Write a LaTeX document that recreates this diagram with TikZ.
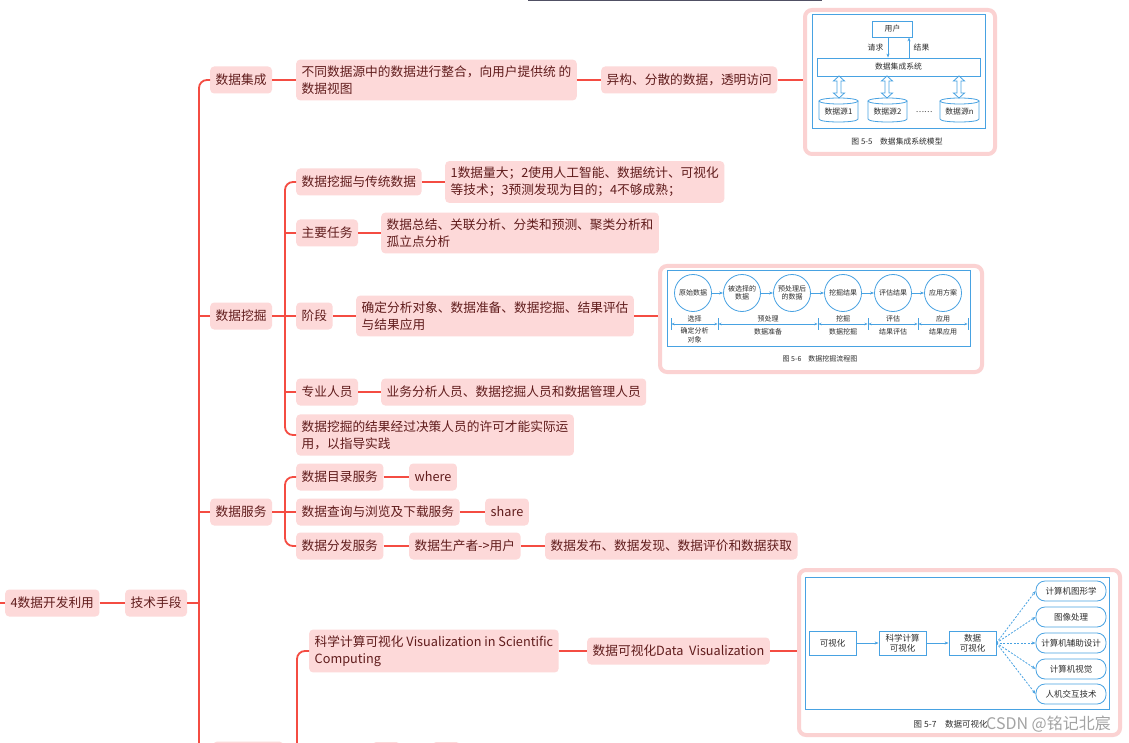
\documentclass[tikz,border=0pt]{standalone}
\usepackage{fontspec}
\setmainfont{Noto Sans CJK SC}
\usetikzlibrary{arrows.meta,calc}
\definecolor{nodefill}{RGB}{253,217,217}
\definecolor{nodetext}{RGB}{96,28,28}
\definecolor{linecol}{RGB}{244,76,66}
\definecolor{framepink}{RGB}{251,210,210}
\definecolor{figblue}{RGB}{72,162,226}
\definecolor{figtext}{RGB}{45,45,45}
\definecolor{topbar}{RGB}{80,80,100}
\newcommand\dblarrow[3]{%
  \draw[figline] (#1-2,#2+5) -- (#1-5.5,#2+5) -- (#1,#2) -- (#1+5.5,#2+5) -- (#1+2,#2+5) -- (#1+2,#3-5) -- (#1+5.5,#3-5) -- (#1,#3) -- (#1-5.5,#3-5) -- (#1-2,#3-5) -- cycle;}
\begin{document}
\begin{tikzpicture}[x=1pt,y=-1pt,
  mnode/.style={fill=nodefill, text=nodetext, rounded corners=4, inner xsep=5.5, inner ysep=6,
    minimum height=27, align=left, anchor=west, font=\fontsize{12.7}{17}\selectfont},
  conn/.style={draw=linecol, line width=1.8},
  framebox/.style={draw=framepink, line width=4, rounded corners=7, fill=white, anchor=north west, inner sep=0},
  figline/.style={draw=figblue, line width=0.8},
  figbox/.style={figline, fill=white, text=figtext, inner sep=1, align=center},
  figtxt/.style={text=figtext, inner sep=0.5, align=center},
  farrow/.style={figline, -{Stealth[length=4,width=3]}},
]
\path[use as bounding box] (0,0) rectangle (1129,743);
\clip (0,0) rectangle (1129,743);
\fill[white] (0,0) rectangle (1129,743);
\draw[topbar, line width=1.5] (528,0.5) -- (822,0.5);

% ---------- main nodes
\node[mnode] (root) at (5,603) {4数据开发利用};
\node[mnode] (jishu) at (125,603) {技术手段};
\node[mnode] (jicheng) at (210,80) {数据集成};
\node[mnode] (wajue) at (210,316) {数据挖掘};
\node[mnode] (fuwu) at (210,512) {数据服务};
\node[mnode, minimum width=70] (bottom) at (213,755) {};

\node[mnode] (jc1) at (296,80) {不同数据源中的数据进行整合，向用户提供统 的\\数据视图};
\node[mnode] (jc2) at (601,80) {异构、分散的数据，透明访问};

\node[mnode] (wj1) at (296,182) {数据挖掘与传统数据};
\node[mnode] (wj1a) at (445,182) {1数据量大；2使用人工智能、数据统计、可视化\\等技术；3预测发现为目的；4不够成熟；};
\node[mnode] (wj2) at (296,233) {主要任务};
\node[mnode] (wj2a) at (381,233) {数据总结、关联分析、分类和预测、聚类分析和\\孤立点分析};
\node[mnode] (wj3) at (296,316) {阶段};
\node[mnode] (wj3a) at (356,316) {确定分析对象、数据准备、数据挖掘、结果评估\\与结果应用};
\node[mnode] (wj4) at (296,392) {专业人员};
\node[mnode] (wj4a) at (381,392) {业务分析人员、数据挖掘人员和数据管理人员};
\node[mnode] (wj5) at (296,435) {数据挖掘的结果经过决策人员的许可才能实际运\\用，以指导实践};

\node[mnode] (fw1) at (296,477) {数据目录服务};
\node[mnode] (fw1a) at (409,477) {where};
\node[mnode] (fw2) at (296,512) {数据查询与浏览及下载服务};
\node[mnode] (fw2a) at (485,512) {share};
\node[mnode] (fw3) at (296,546) {数据分发服务};
\node[mnode] (fw3a) at (409,546) {数据生产者->用户};
\node[mnode] (fw3b) at (545,546) {数据发布、数据发现、数据评价和数据获取};

\node[mnode] (kx) at (309,651) {科学计算可视化 Visualization in Scientific\\Computing};
\node[mnode] (kxa) at (587,651) {数据可视化Data\ \ Visualization};

\node[mnode, minimum width=28] (b1) at (372,755.5) {};
\node[mnode, minimum width=28] (b2) at (432,755.5) {};

% ---------- frames
\node[framebox, minimum width=190, minimum height=144] (fig1) at (803,8) {};
\node[framebox, minimum width=322, minimum height=106] (fig2) at (658,264) {};
\node[framebox, minimum width=321, minimum height=165] (fig3) at (797,568) {};

% ---------- connectors
\draw[conn] (0,603) -- (root.west);
\draw[conn] (root.east) -- (jishu.west);
\draw[conn] (jishu.east) -- (199,603);
\draw[conn, rounded corners=8] (jicheng.west) -- (199,80) -- (199,770);
\draw[conn] (wajue.west) -- (199,316);
\draw[conn] (fuwu.west) -- (199,512);
\draw[conn] (bottom.west) -- (199,755);
\draw[conn] (bottom.east) -- (297,755);

\draw[conn] (jicheng.east) -- (jc1.west);
\draw[conn] (jc1.east) -- (jc2.west);
\draw[conn] (jc2.east) -- (jc2.east -| fig1.west);

\draw[conn, rounded corners=8] (wj1.west) -- (285,182) -- (285,435) -- (wj5.west);
\draw[conn] (wj2.west) -- (285,233);
\draw[conn] (wajue.east) -- (wj3.west);
\draw[conn] (wj4.west) -- (285,392);
\draw[conn] (wj1.east) -- (wj1a.west);
\draw[conn] (wj2.east) -- (wj2a.west);
\draw[conn] (wj3.east) -- (wj3a.west);
\draw[conn] (wj3a.east) -- (wj3a.east -| fig2.west);
\draw[conn] (wj4.east) -- (wj4a.west);

\draw[conn, rounded corners=8] (fw1.west) -- (285,477) -- (285,546) -- (fw3.west);
\draw[conn] (fuwu.east) -- (fw2.west);
\draw[conn] (fw1.east) -- (fw1a.west);
\draw[conn] (fw2.east) -- (fw2a.west);
\draw[conn] (fw3.east) -- (fw3a.west);
\draw[conn] (fw3a.east) -- (fw3b.west);

\draw[conn, rounded corners=8] (kx.west) -- (297,651) -- (297,770);
\draw[conn] (kx.east) -- (kxa.west);
\draw[conn] (kxa.east) -- (kxa.east -| fig3.west);

% ---------- figure 1
\begin{scope}[font=\fontsize{7.8}{9}\selectfont]
\draw[figline] (812,14) rectangle (985,128);
\node[figbox, minimum width=40, minimum height=16] (user) at (892.5,29) {用户};
\node[figbox, minimum width=163, minimum height=18] (sys) at (898.5,67) {数据集成系统};
\coordinate (qa) at (888,37);
\coordinate (ja) at (909,59);
\draw[farrow] (qa) -- (qa |- sys.north);
\draw[farrow] (ja |- sys.north) -- (ja |- user.south);
\node[figtxt, anchor=east] (qq) at (884,48) {请求};
\node[figtxt, anchor=west] (jg) at (913,48) {结果};
\dblarrow{839}{76}{98}
\dblarrow{887}{76}{98}
\dblarrow{959}{76}{98}
\foreach \c/\t/\n in {838.5/{数据源1}/s1, 887.5/{数据源2}/s2, 959.5/{数据源\textit{n}}/s3}{
  \draw[figline, fill=white] (\c-19.5,101) -- (\c-19.5,119) .. controls (\c-19.5,123) and (\c+19.5,123) .. (\c+19.5,119) -- (\c+19.5,101);
  \draw[figline] (\c,101) ellipse [x radius=19.5, y radius=3];
  \node[figtxt] (\n) at (\c,112) {\t};
}
\node[figtxt] (dots) at (924,112) {……};
\node[figtxt] (cap1) at (897,142) {图 5-5\quad 数据集成系统模型};
\end{scope}

% ---------- figure 2
\begin{scope}[font=\fontsize{7}{8.5}\selectfont]
\draw[figline] (667,270) rectangle (970,346);
\node[figbox, circle, minimum size=37, inner sep=0] (c1) at (693,293) {原始数据};
\node[figbox, circle, minimum size=37, inner sep=0] (c2) at (742,293) {被选择的\\数据};
\node[figbox, circle, minimum size=37, inner sep=0] (c3) at (792,293) {预处理后\\的数据};
\node[figbox, circle, minimum size=37, inner sep=0] (c4) at (843,293) {挖掘结果};
\node[figbox, circle, minimum size=37, inner sep=0] (c5) at (893,293) {评估结果};
\node[figbox, circle, minimum size=37, inner sep=0] (c6) at (943,293) {应用方案};
\foreach \a/\b in {c1/c2,c2/c3,c3/c4,c4/c5,c5/c6}{\draw[farrow] (\a.east) -- (\b.west);}
\foreach \x in {671,718,818,868,918,968}{\draw[figline] (\x,318) -- (\x,330);}
\foreach \a/\b in {671/718,718/818,818/868,868/918,918/968}{
  \draw[figline, {Stealth[length=3,width=2.5]}-{Stealth[length=3,width=2.5]}] (\a+0.5,324) -- (\b-0.5,324);}
\node[figtxt] (l1) at (694.5,318.5) {选择};
\node[figtxt] (l2) at (768,318.5) {预处理};
\node[figtxt] (l3) at (843,318.5) {挖掘};
\node[figtxt] (l4) at (893,318.5) {评估};
\node[figtxt] (l5) at (943,318.5) {应用};
\node[figtxt] (m1) at (694.5,335.5) {确定分析\\对象};
\node[figtxt] (m2) at (768,331.5) {数据准备};
\node[figtxt] (m3) at (843,331.5) {数据挖掘};
\node[figtxt] (m4) at (893,331.5) {结果评估};
\node[figtxt] (m5) at (943,331.5) {结果应用};
\node[figtxt] (cap2) at (820,359) {图 5-6\quad 数据挖掘流程图};
\end{scope}

% ---------- figure 3
\begin{scope}[font=\fontsize{8.5}{10}\selectfont]
\draw[figline] (805,577) rectangle (1109,709);
\node[figbox, minimum width=47, minimum height=24] (v1) at (832.5,643) {可视化};
\node[figbox, minimum width=47, minimum height=24] (v2) at (902.5,643) {科学计算\\可视化};
\node[figbox, minimum width=47, minimum height=24] (v3) at (972.5,643) {数据\\可视化};
\draw[farrow] (v1.east) -- (v2.west);
\draw[farrow] (v2.east) -- (v3.west);
\foreach \y/\t/\n in {591/计算机图形学/r1, 617/图像处理/r2, 643/计算机辅助设计/r3, 669/计算机视觉/r4, 694/人机交互技术/r5}{
  \node[figbox, rounded corners=9, minimum width=70, minimum height=20] (\n) at (1071,\y) {\t};
  \draw[farrow, dash pattern=on 2pt off 1.5pt] (v3.east) -- (\n.west);
}
\node[figtxt, anchor=west] (cap3) at (913,724) {图 5-7\quad 数据可视化};
\node[text=gray!85, opacity=0.85, font=\fontsize{16}{18}\selectfont, inner sep=0, anchor=west] (wm) at (986,724) {CSDN @铭记北宸};
\end{scope}
\end{tikzpicture}
\end{document}
